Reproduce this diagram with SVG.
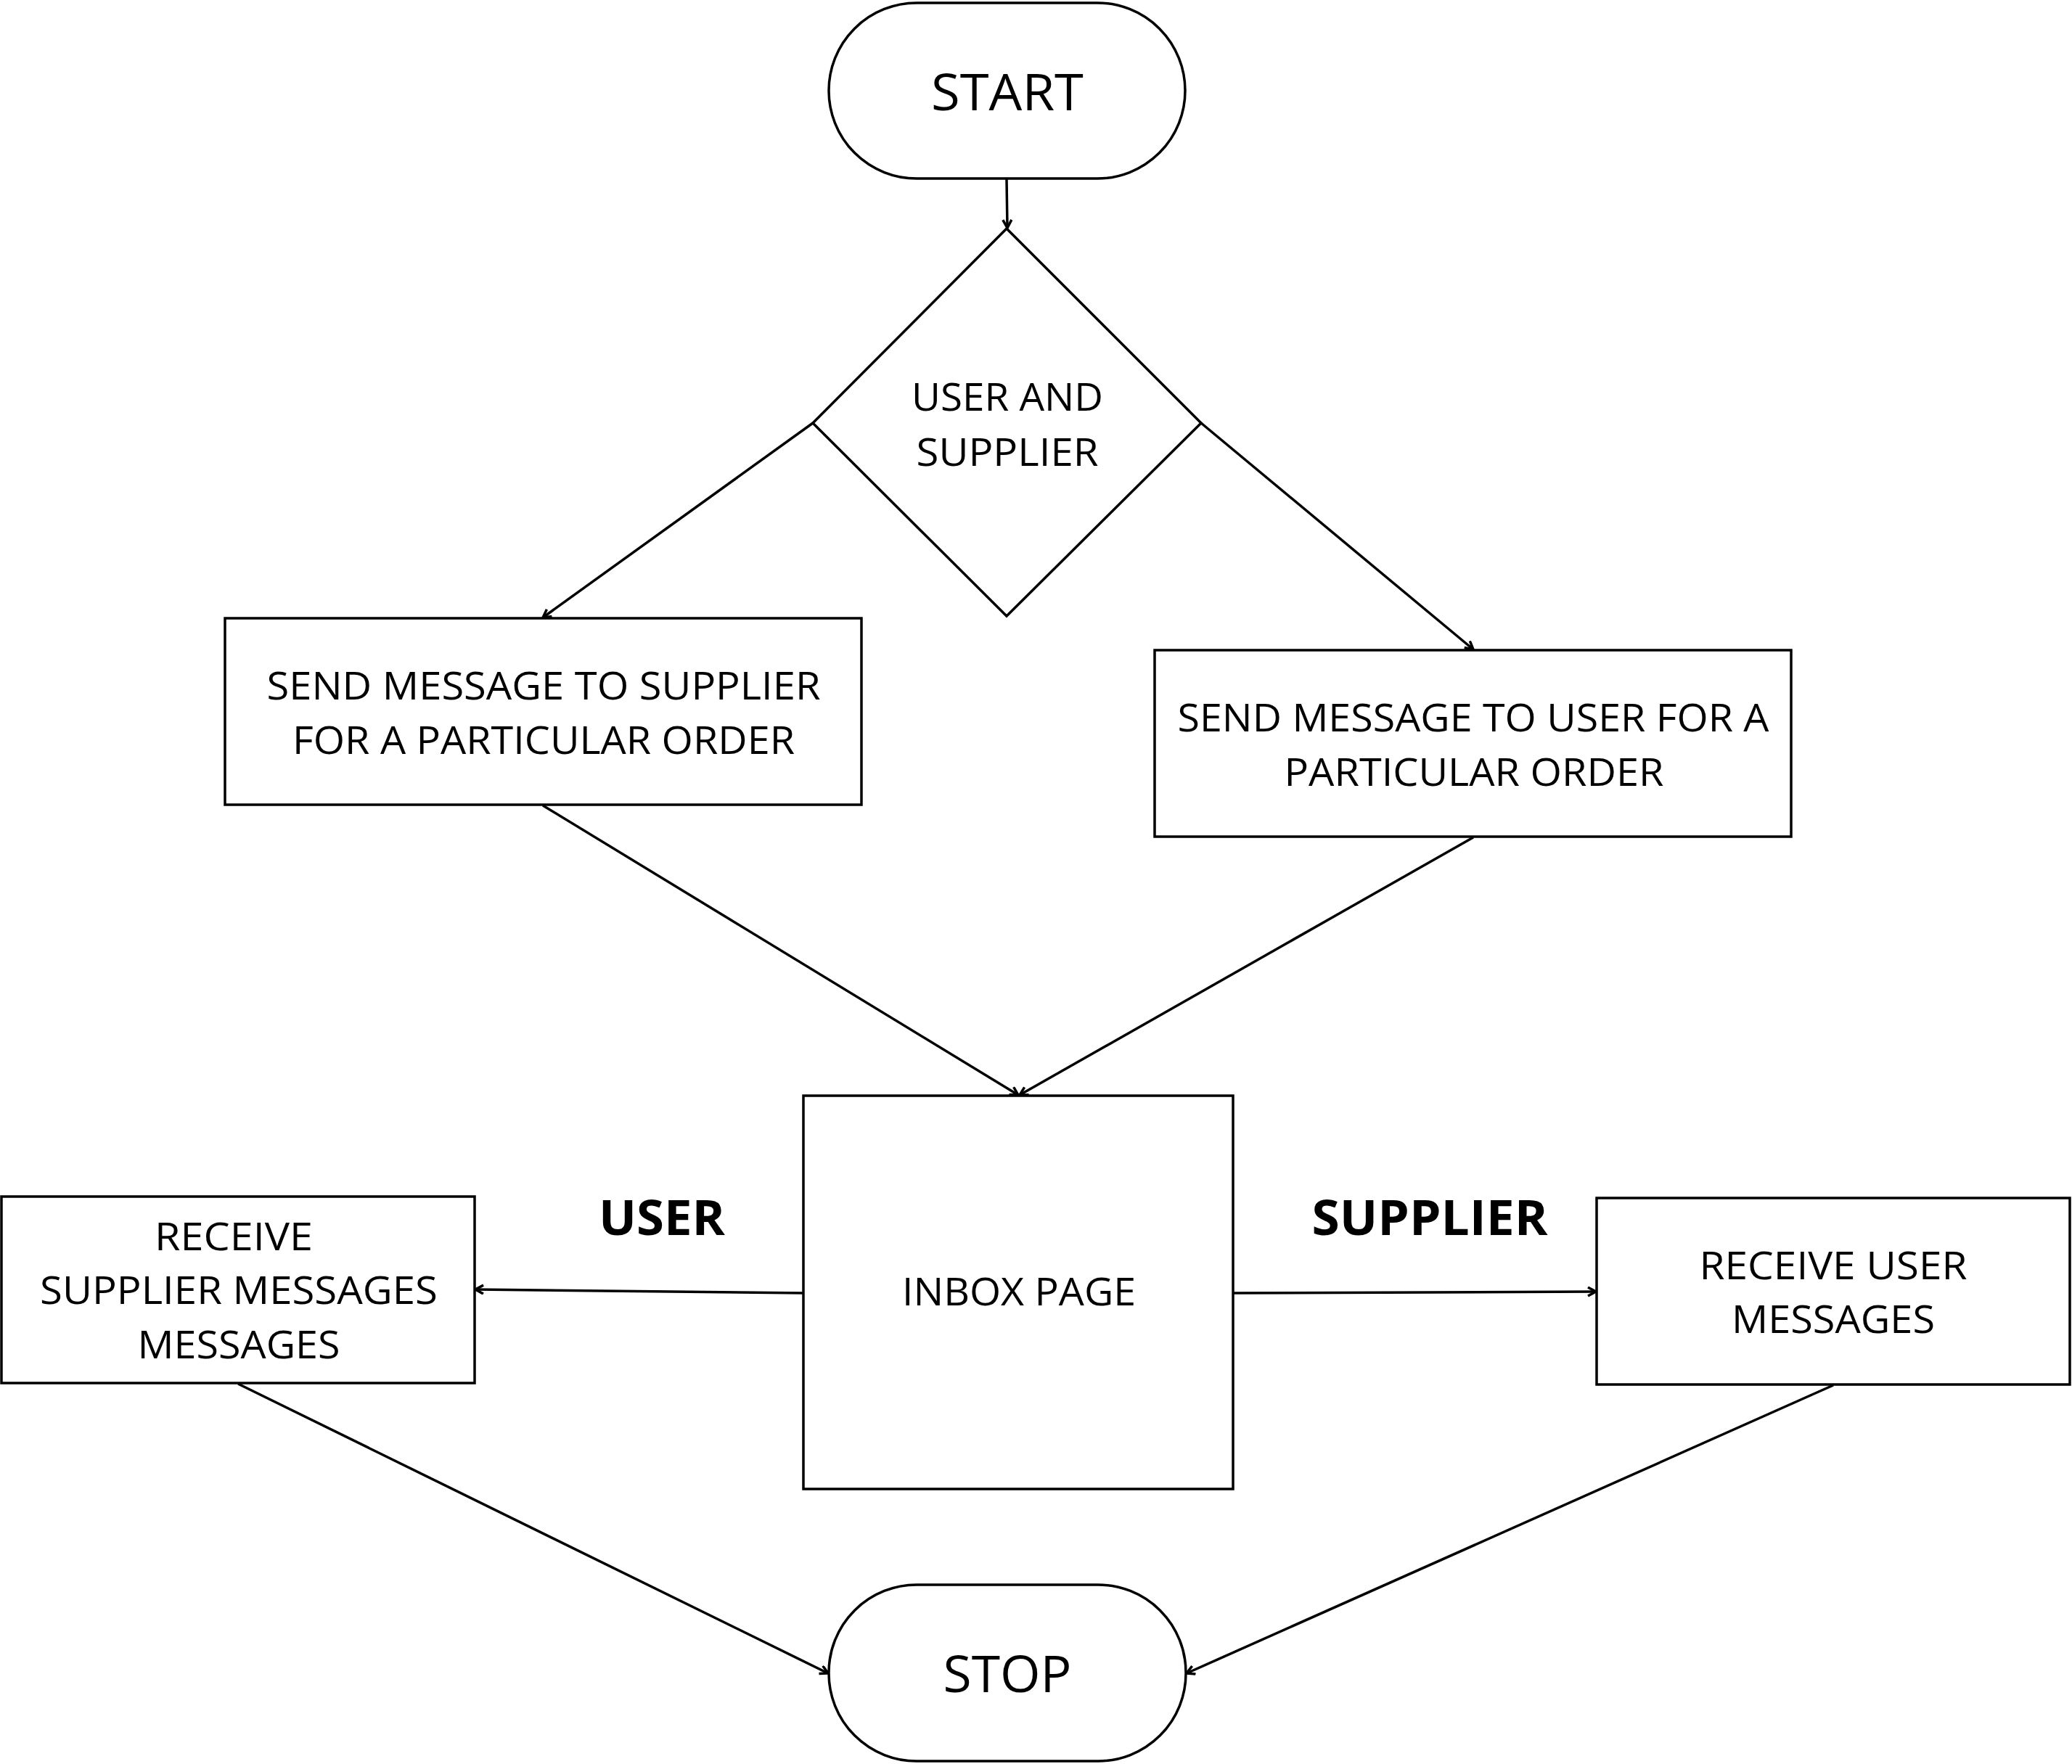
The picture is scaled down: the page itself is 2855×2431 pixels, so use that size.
<svg xmlns="http://www.w3.org/2000/svg" width="2855" height="2431" viewBox="0 0 2855 2431">
<style>
.shape { fill: #fff; stroke: #000; stroke-width: 3.5; }
.t { font-family: "Open Sans", "Noto Sans", sans-serif; font-size: 53px; fill: #000; text-anchor: middle; }
.big { font-family: "Open Sans", "Noto Sans", sans-serif; font-size: 70px; fill: #000; text-anchor: middle; }
.lbl { font-family: "Open Sans", "Noto Sans", sans-serif; font-size: 66px; font-weight: bold; fill: #000; text-anchor: middle; }
.conn line { stroke: #000; stroke-width: 3.5; fill: none; marker-end: url(#arr); }
</style>
<defs>
<marker id="arr" markerUnits="userSpaceOnUse" markerWidth="16" markerHeight="16" refX="12" refY="7" orient="auto">
<path d="M1,1 L12,7 L1,13" fill="none" stroke="#000" stroke-width="3.5"/>
</marker>
</defs>
<rect width="2855" height="2431" fill="#fff"/>
<g id="connectors" class="conn">
<line x1="1387" y1="247" x2="1388" y2="314"/>
<line x1="1120" y1="583" x2="748" y2="851"/>
<line x1="1655" y1="583" x2="2030" y2="895"/>
<line x1="748" y1="1110" x2="1403" y2="1509"/>
<line x1="2030" y1="1154" x2="1405" y2="1509"/>
<line x1="1107" y1="1782" x2="655" y2="1777"/>
<line x1="1699" y1="1782" x2="2199" y2="1780"/>
<line x1="328" y1="1907" x2="1141" y2="2306"/>
<line x1="2526" y1="1909" x2="1635" y2="2306"/>
</g>
<g id="start">
<rect class="shape" x="1142" y="4" width="491" height="242" rx="121" ry="121"/>
<text class="big" x="1388" y="152" textLength="210" lengthAdjust="spacingAndGlyphs">START</text>
</g>
<g id="decision">
<polygon class="shape" points="1387,315 1655,583 1387,849 1120,583"/>
<text class="t" x="1388" y="566" textLength="264" lengthAdjust="spacingAndGlyphs">USER AND</text>
<text class="t" x="1388" y="642" textLength="251" lengthAdjust="spacingAndGlyphs">SUPPLIER</text>
</g>
<g id="send-to-supplier">
<rect class="shape" x="310" y="852" width="877" height="257"/>
<text class="t" x="749" y="964" textLength="763" lengthAdjust="spacingAndGlyphs">SEND MESSAGE TO SUPPLIER</text>
<text class="t" x="749" y="1039" textLength="692" lengthAdjust="spacingAndGlyphs">FOR A PARTICULAR ORDER</text>
</g>
<g id="send-to-user">
<rect class="shape" x="1591" y="896" width="877" height="257"/>
<text class="t" x="2030" y="1008" textLength="815" lengthAdjust="spacingAndGlyphs">SEND MESSAGE TO USER FOR A</text>
<text class="t" x="2031" y="1083" textLength="523" lengthAdjust="spacingAndGlyphs">PARTICULAR ORDER</text>
</g>
<g id="inbox">
<rect class="shape" x="1107" y="1510" width="592" height="542"/>
<text class="t" x="1404" y="1799" textLength="322" lengthAdjust="spacingAndGlyphs">INBOX PAGE</text>
</g>
<g id="receive-supplier">
<rect class="shape" x="2" y="1649" width="652" height="257"/>
<text class="t" x="322" y="1723" textLength="218" lengthAdjust="spacingAndGlyphs">RECEIVE</text>
<text class="t" x="329" y="1797" textLength="548" lengthAdjust="spacingAndGlyphs">SUPPLIER MESSAGES</text>
<text class="t" x="329" y="1872" textLength="279" lengthAdjust="spacingAndGlyphs">MESSAGES</text>
</g>
<g id="receive-user">
<rect class="shape" x="2200" y="1651" width="652" height="257"/>
<text class="t" x="2526" y="1763" textLength="369" lengthAdjust="spacingAndGlyphs">RECEIVE USER</text>
<text class="t" x="2526" y="1837" textLength="280" lengthAdjust="spacingAndGlyphs">MESSAGES</text>
</g>
<g id="label-user">
<text class="lbl" x="912" y="1702" textLength="174" lengthAdjust="spacingAndGlyphs">USER</text>
</g>
<g id="label-supplier">
<text class="lbl" x="1970" y="1702" textLength="325" lengthAdjust="spacingAndGlyphs">SUPPLIER</text>
</g>
<g id="stop">
<rect class="shape" x="1142" y="2184" width="492" height="243" rx="121" ry="121"/>
<text class="big" x="1388" y="2332" textLength="177" lengthAdjust="spacingAndGlyphs">STOP</text>
</g>
</svg>
